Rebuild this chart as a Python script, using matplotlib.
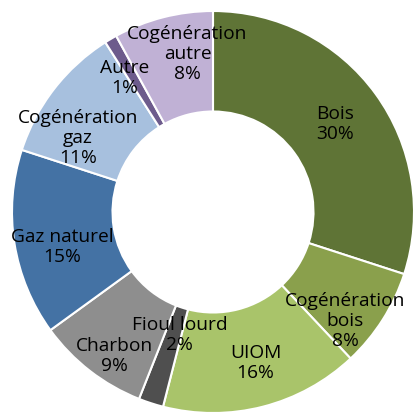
import matplotlib
matplotlib.use("Agg")
import matplotlib.pyplot as plt
import math

categories = ["Bois", "Cogénération\nbois", "UIOM", "Fioul lourd", "Charbon",
              "Gaz naturel", "Cogénération\ngaz", "Autre", "Cogénération\nautre"]
values = [30, 8, 16, 2, 9, 15, 11, 1, 8]
colors = ["#5f7436", "#8aa04c", "#a9c46a", "#4f4f4f", "#8e8e8e",
          "#4472a4", "#a7c0de", "#6d5b8c", "#c0b1d5"]
# label nudges in pixels (dx right, dy down)
label_offsets = [(0, 0), (5, 27), (5, 4), (13, -21), (-6, 24),
                 (-2, 10), (-16, 17), (-12, -5), (12, -13)]

plt.rcParams['font.family'] = ['Open Sans', 'DejaVu Sans']

fig = plt.figure(figsize=(4.14, 4.14), dpi=100)
ax = fig.add_axes([0, 0, 1, 1])
R_PX = 201.0
wedges, texts = ax.pie(values, colors=colors, startangle=90, counterclock=False,
                       radius=1.0, wedgeprops=dict(width=0.5, edgecolor="white", linewidth=1.5),
                       labels=None)
ang = 90.0
for v, cat, (dx, dy) in zip(values, categories, label_offsets):
    mid = ang - v * 360 / 100 / 2
    ang -= v * 360 / 100
    x = 0.75 * math.cos(math.radians(mid)) + dx / R_PX
    y = 0.75 * math.sin(math.radians(mid)) - dy / R_PX
    ax.text(x, y, f"{cat}\n{v}%", ha="center", va="center", fontsize=13.8,
            color="black", linespacing=1.15)

ax.set_xlim(-213 / R_PX, (414 - 213) / R_PX)
ax.set_ylim(-(414 - 213) / R_PX, 213 / R_PX)
ax.set_aspect("equal")
ax.axis("off")
fig.savefig("out.png", dpi=100)
